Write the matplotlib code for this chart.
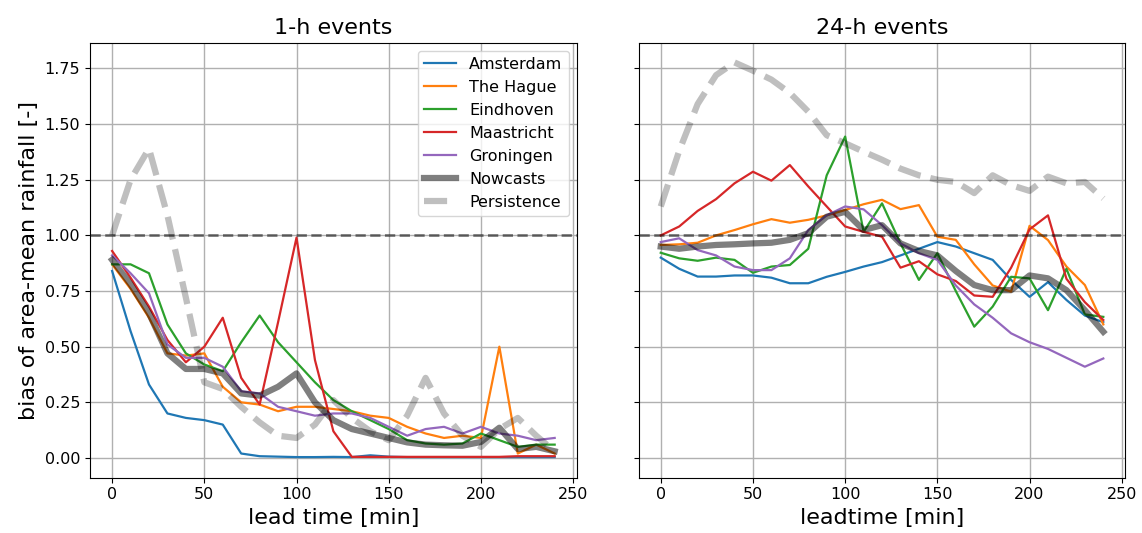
import matplotlib
matplotlib.use("Agg")
import matplotlib.pyplot as plt

# lead times (min)
lead_time = list(range(0, 250, 10))

cities = ["Amsterdam", "The Hague", "Eindhoven", "Maastricht", "Groningen"]
colors = ["tab:blue", "tab:orange", "tab:green", "tab:red", "tab:purple"]

# 1-h events
ams_1h = [0.84, 0.57, 0.33, 0.20, 0.18, 0.17, 0.15, 0.02, 0.008, 0.006, 0.004, 0.004, 0.005,
          0.004, 0.012, 0.006, 0.004, 0.004, 0.004, 0.004, 0.004, 0.004, 0.004, 0.004, 0.004]
hague_1h = [0.87, 0.76, 0.63, 0.47, 0.46, 0.47, 0.32, 0.25, 0.24, 0.21, 0.23, 0.23, 0.22,
            0.21, 0.19, 0.18, 0.14, 0.11, 0.09, 0.10, 0.09, 0.50, 0.02, 0.06, 0.02]
eind_1h = [0.87, 0.87, 0.83, 0.60, 0.47, 0.42, 0.39, 0.52, 0.64, 0.52, 0.43, 0.34, 0.26,
           0.21, 0.17, 0.13, 0.08, 0.065, 0.06, 0.065, 0.11, 0.08, 0.05, 0.06, 0.06]
maas_1h = [0.93, 0.81, 0.68, 0.53, 0.43, 0.50, 0.63, 0.36, 0.24, 0.61, 0.99, 0.44, 0.12,
           0.005, 0.005, 0.005, 0.005, 0.005, 0.005, 0.005, 0.005, 0.005, 0.008, 0.008, 0.008]
gron_1h = [0.91, 0.83, 0.74, 0.51, 0.45, 0.45, 0.41, 0.30, 0.29, 0.23, 0.21, 0.19, 0.20,
           0.20, 0.18, 0.14, 0.10, 0.13, 0.14, 0.11, 0.14, 0.11, 0.10, 0.08, 0.09]
nowcast_1h = [0.89, 0.78, 0.65, 0.47, 0.40, 0.40, 0.38, 0.29, 0.28, 0.32, 0.38, 0.25, 0.17,
              0.13, 0.11, 0.09, 0.07, 0.06, 0.057, 0.055, 0.072, 0.136, 0.04, 0.05, 0.03]
persist_1h = [1.0, 1.25, 1.39, 1.09, 0.72, 0.34, 0.31, 0.23, 0.16, 0.10, 0.09, 0.15, 0.26,
              0.18, 0.12, 0.08, 0.19, 0.36, 0.20, 0.10, 0.05, 0.13, 0.18, 0.10, 0.03]

# 24-h events
ams_24h = [0.90, 0.85, 0.815, 0.815, 0.82, 0.82, 0.81, 0.785, 0.785, 0.814, 0.836, 0.86, 0.88,
           0.91, 0.94, 0.97, 0.95, 0.92, 0.89, 0.80, 0.724, 0.79, 0.71, 0.64, 0.61]
hague_24h = [0.957, 0.96, 0.967, 1.0, 1.024, 1.05, 1.073, 1.057, 1.07, 1.09, 1.114, 1.14, 1.16,
             1.118, 1.136, 0.994, 0.98, 0.87, 0.775, 0.747, 1.043, 0.979, 0.86, 0.777, 0.60]
eind_24h = [0.922, 0.897, 0.886, 0.90, 0.89, 0.832, 0.86, 0.867, 0.94, 1.27, 1.444, 1.016, 1.144,
            0.964, 0.80, 0.92, 0.75, 0.59, 0.68, 0.814, 0.807, 0.664, 0.85, 0.645, 0.634]
maas_24h = [1.0, 1.04, 1.11, 1.163, 1.234, 1.286, 1.246, 1.316, 1.22, 1.13, 1.04, 1.016, 0.994,
            0.855, 0.884, 0.825, 0.795, 0.73, 0.724, 0.855, 1.027, 1.09, 0.805, 0.70, 0.62]
gron_24h = [0.97, 0.987, 0.934, 0.91, 0.86, 0.844, 0.844, 0.897, 1.024, 1.09, 1.13, 1.117, 1.046,
            0.964, 0.92, 0.89, 0.775, 0.69, 0.63, 0.56, 0.52, 0.49, 0.45, 0.41, 0.447]
nowcast_24h = [0.95, 0.94, 0.95, 0.957, 0.96, 0.964, 0.967, 0.98, 1.01, 1.084, 1.106, 1.024, 1.046,
               0.964, 0.93, 0.91, 0.84, 0.777, 0.754, 0.754, 0.82, 0.807, 0.754, 0.664, 0.567]
persist_24h = [1.13, 1.38, 1.59, 1.72, 1.777, 1.74, 1.70, 1.64, 1.556, 1.45, 1.414, 1.376, 1.34,
               1.30, 1.27, 1.25, 1.24, 1.19, 1.27, 1.226, 1.20, 1.264, 1.234, 1.24, 1.166]

city_1h = [ams_1h, hague_1h, eind_1h, maas_1h, gron_1h]
city_24h = [ams_24h, hague_24h, eind_24h, maas_24h, gron_24h]

fig, axes = plt.subplots(1, 2, figsize=(11.42, 5.33), dpi=100, sharey=True)
fig.subplots_adjust(left=0.0788, right=0.9855, bottom=0.104, top=0.92, wspace=0.127)

panels = [
    (axes[0], city_1h, nowcast_1h, persist_1h, "1-h events", "lead time [min]"),
    (axes[1], city_24h, nowcast_24h, persist_24h, "24-h events", "leadtime [min]"),
]

for ax, city_vals, nowcast, persist, title, xlabel in panels:
    for name, col, vals in zip(cities, colors, city_vals):
        ax.plot(lead_time, vals, color=col, lw=1.6, label=name)
    ax.plot(lead_time, nowcast, color="k", alpha=0.5, lw=4.5, label="Nowcasts")
    ax.plot(lead_time, persist, color="k", alpha=0.25, lw=4.5, ls="--", label="Persistence")
    ax.axhline(1.0, color="k", alpha=0.5, lw=2, ls="--")
    ax.grid(True, color="#b0b0b0", lw=1.0)
    ax.set_title(title, fontsize=16)
    ax.set_xlabel(xlabel, fontsize=16)
    ax.tick_params(labelsize=11.5)
    ax.set_xlim(-12, 252)
    ax.set_ylim(-0.088, 1.866)

axes[0].set_ylabel("bias of area-mean rainfall [-]", fontsize=16)
axes[0].legend(loc="upper right", fontsize=11.5)

fig.savefig("out.png", dpi=100)
plt.close()
